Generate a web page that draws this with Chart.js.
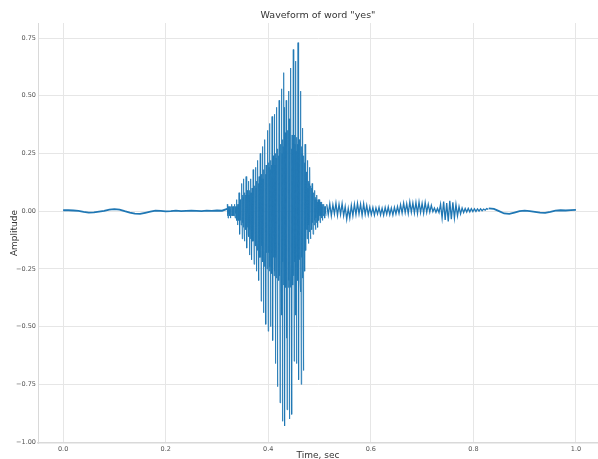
<!DOCTYPE html>
<html>
<head>
<meta charset="utf-8">
<script src="https://cdn.jsdelivr.net/npm/chart.js@4.4.1/dist/chart.umd.min.js"></script>
<style>
  html, body { margin: 0; padding: 0; background: #fff; }
  canvas { display: block; }
</style>
</head>
<body>
<canvas id="wave" width="598" height="459"></canvas>
<script>
// tick labels
var xTicks = [0.0, 0.2, 0.4, 0.6, 0.8, 1.0];
var yTicks = [-1.0, -0.75, -0.5, -0.25, 0.0, 0.25, 0.5, 0.75];

//========== silence before the word (t = 0.00 .. 0.32, every 10 ms)
var leadStart = 0.0, leadStep = 0.01;
var leadAmp = [0.004, 0.004, 0.003, 0.001, -0.003, -0.006, -0.005, -0.002, 0.001, 0.007,
    0.009, 0.007, 0.0, -0.006, -0.011, -0.012, -0.007, -0.002, 0.002, 0.001,
    -0.001, 0.0, 0.002, 0.0, 0.001, 0.002, 0.001, 0.0, 0.002, 0.001,
    0.003, 0.002, 0.01];

//========== "ye" - voiced part, one row per pitch period
var voicedStart = 0.320, voicedStep = 0.000575;
var voicedAmp = [
    0.03, -0.02, 0.02, -0.03, 0.02, -0.01, 0.02, -0.02,
    0.02, -0.02, 0.01, -0.03, 0.02, -0.01, 0.02, -0.02,
    0.03, -0.01, 0.02, -0.02, 0.02, -0.02, 0.01, -0.02,
    0.03, -0.02, 0.02, -0.03, 0.02, -0.01, 0.02, -0.02,
    0.05, -0.04, 0.02, -0.06, 0.03, -0.03, 0.03, -0.04,
    0.08, -0.05, 0.04, -0.10, 0.05, -0.04, 0.05, -0.06,
    0.12, -0.06, 0.06, -0.12, 0.07, -0.05, 0.06, -0.07,
    0.14, -0.07, 0.06, -0.13, 0.08, -0.06, 0.07, -0.08,
    0.15, -0.09, 0.07, -0.16, 0.09, -0.07, 0.08, -0.10,
    0.13, -0.11, 0.07, -0.19, 0.09, -0.08, 0.08, -0.12,
    0.14, -0.12, 0.08, -0.21, 0.10, -0.09, 0.09, -0.13,
    0.18, -0.13, 0.09, -0.23, 0.11, -0.10, 0.10, -0.15,
    0.19, -0.15, 0.10, -0.26, 0.13, -0.12, 0.12, -0.17,
    0.22, -0.18, 0.12, -0.30, 0.15, -0.14, 0.13, -0.20,
    0.25, -0.20, 0.13, -0.39, 0.16, -0.15, 0.14, -0.22,
    0.28, -0.22, 0.14, -0.44, 0.18, -0.17, 0.16, -0.24,
    0.31, -0.23, 0.16, -0.49, 0.20, -0.18, 0.18, -0.25,
    0.35, -0.23, 0.17, -0.52, 0.21, -0.18, 0.19, -0.26,
    0.38, -0.24, 0.18, -0.50, 0.22, -0.19, 0.20, -0.27,
    0.41, -0.25, 0.19, -0.56, 0.24, -0.20, 0.22, -0.28,
    0.42, -0.26, 0.20, -0.66, 0.25, -0.20, 0.23, -0.29,
    0.45, -0.27, 0.22, -0.76, 0.27, -0.21, 0.24, -0.30,
    0.48, -0.28, 0.23, -0.83, 0.29, -0.22, 0.26, -0.31,
    0.53, -0.45, 0.25, -0.91, 0.31, -0.22, 0.28, -0.32,
    0.60, -0.30, 0.45, -0.93, 0.34, -0.23, 0.30, -0.33,
    0.48, -0.55, 0.28, -0.86, 0.35, -0.23, 0.31, -0.33,
    0.52, -0.30, 0.40, -0.90, 0.34, -0.23, 0.30, -0.33,
    0.62, -0.40, 0.27, -0.88, 0.33, -0.22, 0.30, -0.32,
    0.70, -0.28, 0.42, -0.65, 0.33, -0.22, 0.29, -0.31,
    0.65, -0.45, 0.26, -0.66, 0.32, -0.21, 0.29, -0.30,
    0.73, -0.27, 0.40, -0.73, 0.31, -0.21, 0.28, -0.30,
    0.52, -0.35, 0.23, -0.75, 0.28, -0.20, 0.25, -0.29,
    0.36, -0.23, 0.19, -0.69, 0.24, -0.18, 0.21, -0.26,
    0.29, -0.10, 0.14, -0.17, 0.17, -0.08, 0.15, -0.12,
    0.22, -0.08, 0.10, -0.14, 0.13, -0.06, 0.12, -0.09,
    0.19, -0.07, 0.09, -0.12, 0.11, -0.05, 0.10, -0.08,
    0.12, -0.05, 0.06, -0.10, 0.08, -0.04, 0.07, -0.06,
    0.09, -0.04, 0.05, -0.08, 0.06, -0.03, 0.05, -0.05,
    0.07, -0.03, 0.04, -0.07, 0.05, -0.03, 0.04, -0.04,
    0.05, -0.02, 0.03, -0.05, 0.04, -0.02, 0.03, -0.03,
    0.04, -0.02, 0.02, -0.04, 0.03, -0.01, 0.03, -0.02,
    0.03, -0.02, 0.02, -0.03, 0.02, -0.01, 0.02, -0.02
];

//========== "s" - fricative noise
var noiseStart = 0.514, noiseStep = 0.003;
var noiseAmp = [0.03, -0.015, 0.032, -0.02, 0.028, -0.012, 0.035, -0.018, 0.03, -0.014,
    0.033, -0.02, 0.02, -0.035, 0.012, -0.03, 0.025, -0.02, 0.03, -0.015,
    0.034, -0.012, 0.03, -0.018, 0.032, -0.014, 0.025, -0.016, 0.018, -0.015,
    0.016, -0.018, 0.014, -0.012, 0.017, -0.016, 0.013, -0.018, 0.016, -0.013,
    0.018, -0.015, 0.014, -0.017, 0.017, -0.012, 0.02, -0.01, 0.028, -0.008,
    0.035, -0.006, 0.032, -0.01, 0.04, -0.005, 0.036, -0.008, 0.038, -0.01,
    0.04, -0.006, 0.034, -0.009, 0.038, -0.005, 0.03, -0.004, 0.025, -0.002,
    0.014, -0.005, 0.012, -0.006, 0.03, -0.03, 0.042, -0.038, 0.035, -0.045,
    0.045, -0.035, 0.038, -0.03, 0.03, -0.02, 0.02, -0.012, 0.014, -0.006,
    0.012, -0.004, 0.012, -0.003, 0.011, -0.002, 0.01, -0.001, 0.01, 0.0,
    0.01, 0.002, 0.009, 0.004, 0.011, 0.008];

//========== silence after the word
var tailStart = 0.83, tailStep = 0.01;
var tailAmp = [0.012, 0.01, 0.0, -0.01, -0.012, -0.006, 0.0, 0.002, 0.0, -0.003,
    -0.006, -0.007, -0.003, 0.002, 0.004, 0.003, 0.005, 0.006];

function toPoints(amp, start, step) {
    return amp.map(function (v, i) {
        return { x: +(start + i * step).toFixed(6), y: v };
    });
}

var lineColor = '#1f77b4';
function segment(amp, start, step, width) {
    return {
        data: toPoints(amp, start, step),
        borderColor: lineColor,
        borderWidth: width,
        pointRadius: 0,
        tension: 0,
        fill: false
    };
}

var tickFont = { family: 'DejaVu Sans', size: 6.5 };
var labelFont = { family: 'DejaVu Sans', size: 9 };

function minusSign(s) {
    return s.replace('-', '\u2212');
}

var titlePlugin = {
    id: 'plotTitle',
    afterDraw: function (chart) {
        var ctx = chart.ctx, area = chart.chartArea;
        ctx.save();
        ctx.font = '9.5px "DejaVu Sans"';
        ctx.fillStyle = '#333333';
        ctx.textAlign = 'center';
        ctx.textBaseline = 'middle';
        ctx.fillText('Waveform of word "yes"', (area.left + area.right) / 2, 16);
        ctx.restore();
    }
};

new Chart(document.getElementById('wave'), {
    type: 'line',
    data: {
        datasets: [
            segment(leadAmp, leadStart, leadStep, 1.8),
            segment(voicedAmp, voicedStart, voicedStep, 0.8),
            segment(noiseAmp, noiseStart, noiseStep, 1.3),
            segment(tailAmp, tailStart, tailStep, 1.8)
        ]
    },
    plugins: [titlePlugin],
    options: {
        responsive: false,
        animation: false,
        layout: { padding: { top: 23, right: 0, left: 0, bottom: 0 } },
        plugins: {
            legend: { display: false },
            tooltip: { enabled: false },
            title: { display: false }
        },
        scales: {
            x: {
                type: 'linear',
                min: -0.049,
                max: 1.043,
                afterFit: function (scale) { scale.height = 16; },
                afterBuildTicks: function (scale) {
                    scale.ticks = xTicks.map(function (v) { return { value: v }; });
                },
                grid: { color: '#e6e6e6', lineWidth: 1, drawTicks: false },
                border: { color: '#d9d9d9', width: 1.5 },
                ticks: {
                    font: tickFont,
                    color: '#555555',
                    padding: 2,
                    autoSkip: false,
                    maxRotation: 0,
                    callback: function (v) { return minusSign(v.toFixed(1)); }
                },
                title: {
                    display: true,
                    text: 'Time, sec',
                    font: labelFont,
                    color: '#333333',
                    padding: { top: 0, bottom: -2 }
                }
            },
            y: {
                min: -1.004,
                max: 0.815,
                afterFit: function (scale) { scale.width = 38; },
                afterBuildTicks: function (scale) {
                    scale.ticks = yTicks.map(function (v) { return { value: v }; });
                },
                grid: { color: '#e6e6e6', lineWidth: 1, drawTicks: false },
                border: { color: '#d9d9d9', width: 1 },
                ticks: {
                    font: tickFont,
                    color: '#555555',
                    padding: 2,
                    autoSkip: false,
                    callback: function (v) { return minusSign(v.toFixed(2)); }
                },
                title: {
                    display: true,
                    text: 'Amplitude',
                    font: labelFont,
                    color: '#333333',
                    padding: { top: 9, bottom: 0 }
                }
            }
        }
    }
});
</script>
</body>
</html>
